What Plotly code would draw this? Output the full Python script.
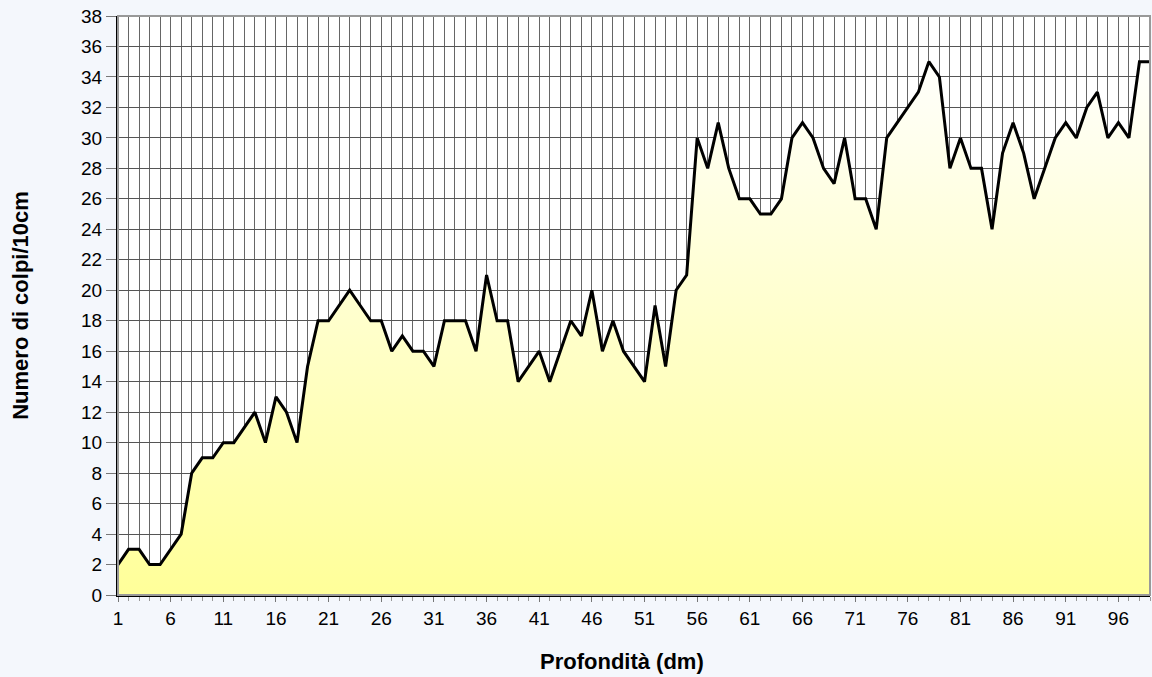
import plotly.graph_objects as go

depth = list(range(1, 100))
blows = [2, 3, 3, 2, 2, 3, 4, 8, 9, 9,
         10, 10, 11, 12, 10, 13, 12, 10, 15, 18,
         18, 19, 20, 19, 18, 18, 16, 17, 16, 16,
         15, 18, 18, 18, 16, 21, 18, 18, 14, 15,
         16, 14, 16, 18, 17, 20, 16, 18, 16, 15,
         14, 19, 15, 20, 21, 30, 28, 31, 28, 26,
         26, 25, 25, 26, 30, 31, 30, 28, 27, 30,
         26, 26, 24, 30, 31, 32, 33, 35, 34, 28,
         30, 28, 28, 24, 29, 31, 29, 26, 28, 30,
         31, 30, 32, 33, 30, 31, 30, 35, 35]
x_ticks = list(range(1, 100, 5))

fig = go.Figure()
fig.add_trace(go.Scatter(
    x=depth, y=blows, mode="lines",
    line=dict(color="black", width=3),
    fill="tozeroy",
    fillgradient=dict(type="vertical", start=0, stop=36,
                      colorscale=[[0, "#ffff99"], [1, "#ffffff"]]),
    hoverinfo="x+y", showlegend=False,
))

font = "Liberation Sans, Arial, sans-serif"
fig.update_layout(
    width=1152, height=677,
    margin=dict(l=118, r=2, t=16, b=82, autoexpand=False),
    paper_bgcolor="#f4f7fc", plot_bgcolor="white",
    font=dict(family=font, size=19, color="black"),
)
fig.update_xaxes(
    range=[1, 99], tickmode="array", tickvals=x_ticks,
    ticks="outside", ticklen=5, tickcolor="#777",
    showgrid=True, gridcolor="#666", gridwidth=1,
    minor=dict(dtick=1, tick0=1, showgrid=True, gridcolor="#666", gridwidth=1,
               ticks="outside", ticklen=4, tickcolor="#999"),
    showline=True, linecolor="black", linewidth=2, mirror=False,
    zeroline=False, automargin=False,
)
fig.update_yaxes(
    range=[0, 38], dtick=2, tick0=0,
    ticks="outside", ticklen=10, tickcolor="#777",
    showgrid=True, gridcolor="#555", gridwidth=1,
    showline=True, linecolor="black", linewidth=2,
    zeroline=False, automargin=False,
    title=dict(text="<b>Numero di colpi/10cm</b>", font=dict(size=22), standoff=46),
)
fig.add_annotation(
    text="<b>Profondità (dm)</b>", xref="paper", yref="paper",
    x=0.488, y=-0.1157, xanchor="center", yanchor="middle",
    showarrow=False, font=dict(size=22),
)
fig.add_shape(type="rect", xref="paper", yref="paper", x0=0, y0=0, x1=1, y1=1,
              line=dict(color="#999", width=2), layer="above")

fig.write_html("out.html", config={"displayModeBar": False},
               post_script="document.body.style.margin='0';document.body.style.overflow='hidden';")
